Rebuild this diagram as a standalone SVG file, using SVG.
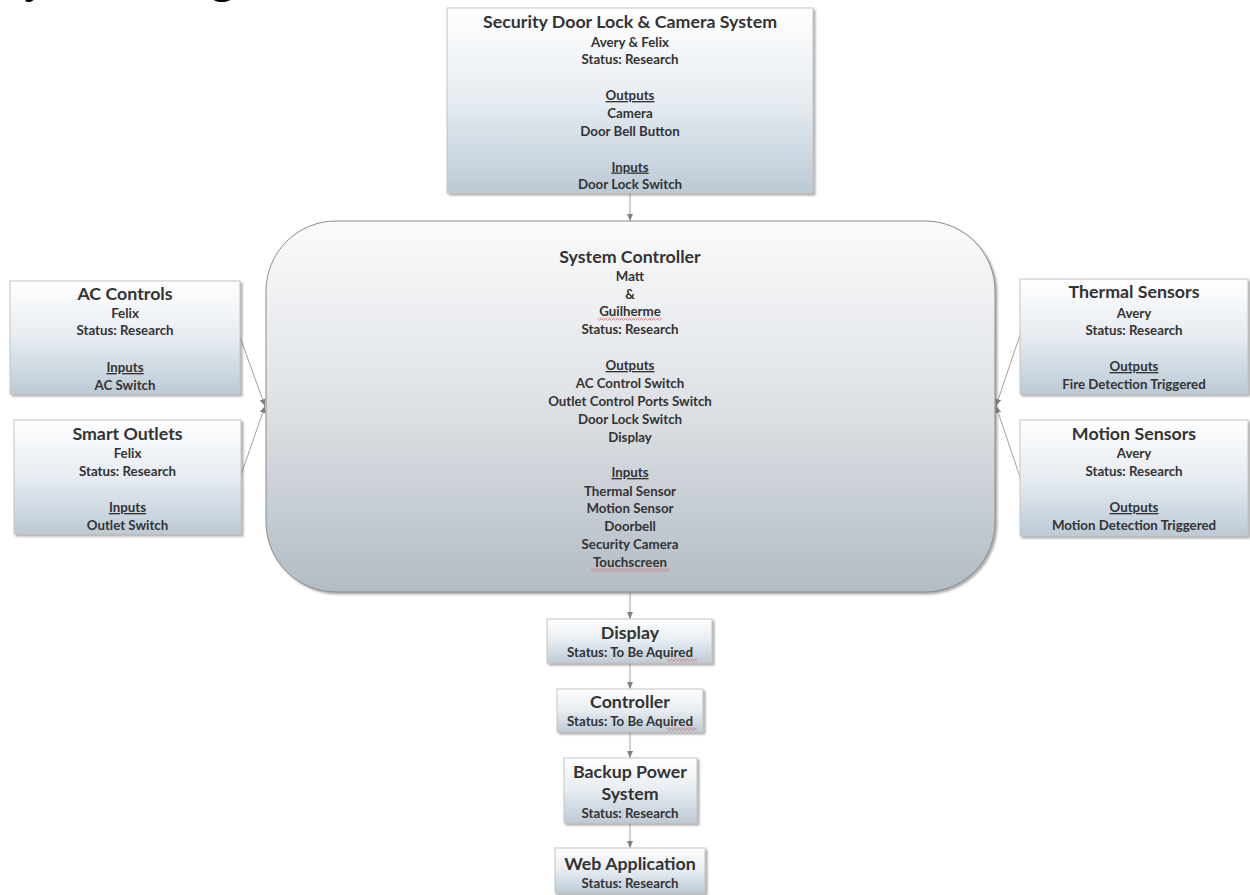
<svg xmlns="http://www.w3.org/2000/svg" width="1250" height="895" viewBox="0 0 1250 895">
<style>
.t{font-family:Lato,"Open Sans","Liberation Sans",sans-serif;font-weight:bold;font-size:17.8px;fill:#333;text-anchor:middle}
.b{font-family:Lato,"Open Sans","Liberation Sans",sans-serif;font-weight:bold;font-size:13.3px;fill:#333;text-anchor:middle}
.u{text-decoration:underline}
.box{fill:url(#boxGrad);stroke:#c4c4c4;stroke-width:1;filter:url(#sh)}
.ctrl{fill:url(#ctrlGrad);stroke:#8c8c8c;stroke-width:1;filter:url(#sh)}
.c{stroke:#a3a3a3;stroke-width:1;fill:none;marker-end:url(#arr)}
.sq{fill:url(#sq)}
</style>
<defs>
<linearGradient id="boxGrad" x1="0" y1="0" x2="0" y2="1">
<stop offset="0" stop-color="#ffffff"/>
<stop offset="0.5" stop-color="#e6ecf1"/>
<stop offset="1" stop-color="#bccad6"/>
</linearGradient>
<linearGradient id="ctrlGrad" x1="0" y1="0" x2="0" y2="1">
<stop offset="0" stop-color="#fbfbfc"/>
<stop offset="0.5" stop-color="#dde1e5"/>
<stop offset="1" stop-color="#b3bcc4"/>
</linearGradient>
<filter id="sh" x="-5%" y="-5%" width="110%" height="115%">
<feDropShadow dx="2" dy="2" stdDeviation="1" flood-color="#666" flood-opacity="0.55"/>
</filter>
<marker id="arr" markerWidth="8" markerHeight="8" refX="7" refY="4" orient="auto" markerUnits="userSpaceOnUse">
<path d="M0,1 L7,4 L0,7 Z" fill="#808080"/>
</marker>
<pattern id="sq" width="4" height="3" patternUnits="userSpaceOnUse">
<path d="M0,2.5 L1,0.6 L2,0.6 L3,2.5 L4,2.5" stroke="#e05a5a" stroke-width="0.7" fill="none"/>
</pattern>
</defs>

<text x="0" y="-7" style="font-family:'Liberation Serif',serif;font-weight:bold;font-size:44px;fill:#000">System Diagram</text>

<g id="connectors">
<line class="c" x1="630" y1="193" x2="630" y2="221"/>
<line class="c" x1="630" y1="592" x2="630" y2="619"/>
<line class="c" x1="630" y1="663" x2="630" y2="689"/>
<line class="c" x1="630" y1="732" x2="630" y2="758"/>
<line class="c" x1="630" y1="823" x2="630" y2="848"/>
<line class="c" x1="240" y1="337" x2="265" y2="406"/>
<line class="c" x1="241" y1="475" x2="265" y2="406"/>
<line class="c" x1="1020" y1="335" x2="996" y2="406"/>
<line class="c" x1="1020" y1="477" x2="996" y2="406"/>
</g>

<g id="security">
<rect class="box" x="447" y="8" width="366" height="185"/>
<text class="t" x="630" y="28">Security Door Lock &amp; Camera System</text>
<text class="b" x="630" y="46.5">Avery &amp; Felix</text>
<text class="b" x="630" y="64">Status: Research</text>
<text class="b u" x="630" y="100">Outputs</text>
<text class="b" x="630" y="118">Camera</text>
<text class="b" x="630" y="136">Door Bell Button</text>
<text class="b u" x="630" y="171.5">Inputs</text>
<text class="b" x="630" y="189">Door Lock Switch</text>
</g>

<g id="controller">
<rect class="ctrl" x="266" y="221" width="729" height="371" rx="70" ry="70"/>
<text class="t" x="630" y="263">System Controller</text>
<text class="b" x="630" y="281">Matt</text>
<text class="b" x="630" y="299">&amp;</text>
<text class="b" x="630" y="316">Guilherme</text>
<rect class="sq" x="598" y="317.5" width="64" height="3"/>
<text class="b" x="630" y="334">Status: Research</text>
<text class="b u" x="630" y="370">Outputs</text>
<text class="b" x="630" y="388">AC Control Switch</text>
<text class="b" x="630" y="406">Outlet Control Ports Switch</text>
<text class="b" x="630" y="424">Door Lock Switch</text>
<text class="b" x="630" y="442">Display</text>
<text class="b u" x="630" y="477">Inputs</text>
<text class="b" x="630" y="496">Thermal Sensor</text>
<text class="b" x="630" y="513">Motion Sensor</text>
<text class="b" x="630" y="531">Doorbell</text>
<text class="b" x="630" y="549">Security Camera</text>
<text class="b" x="630" y="567">Touchscreen</text>
<rect class="sq" x="591" y="568.5" width="78" height="3"/>
</g>

<g id="ac">
<rect class="box" x="10" y="281" width="230" height="113"/>
<text class="t" x="125" y="300">AC Controls</text>
<text class="b" x="125" y="318">Felix</text>
<text class="b" x="125" y="335">Status: Research</text>
<text class="b u" x="125" y="372">Inputs</text>
<text class="b" x="125" y="390">AC Switch</text>
</g>

<g id="outlets">
<rect class="box" x="14" y="420" width="227" height="114"/>
<text class="t" x="127.5" y="440">Smart Outlets</text>
<text class="b" x="127.5" y="458">Felix</text>
<text class="b" x="127.5" y="476">Status: Research</text>
<text class="b u" x="127.5" y="512">Inputs</text>
<text class="b" x="127.5" y="530">Outlet Switch</text>
</g>

<g id="thermal">
<rect class="box" x="1020" y="279" width="228" height="115"/>
<text class="t" x="1134" y="298">Thermal Sensors</text>
<text class="b" x="1134" y="318">Avery</text>
<text class="b" x="1134" y="335">Status: Research</text>
<text class="b u" x="1134" y="371">Outputs</text>
<text class="b" x="1134" y="389">Fire Detection Triggered</text>
</g>

<g id="motion">
<rect class="box" x="1020" y="420" width="228" height="116"/>
<text class="t" x="1134" y="440">Motion Sensors</text>
<text class="b" x="1134" y="458">Avery</text>
<text class="b" x="1134" y="476">Status: Research</text>
<text class="b u" x="1134" y="512">Outputs</text>
<text class="b" x="1134" y="530">Motion Detection Triggered</text>
</g>

<g id="display">
<rect class="box" x="547" y="619" width="165" height="44"/>
<text class="t" x="630" y="639">Display</text>
<text class="b" x="630" y="657">Status: To Be Aquired</text>
<rect class="sq" x="667" y="658.5" width="30" height="3"/>
</g>

<g id="ctrlhw">
<rect class="box" x="557" y="689" width="146" height="43"/>
<text class="t" x="630" y="708">Controller</text>
<text class="b" x="630" y="726">Status: To Be Aquired</text>
<rect class="sq" x="667" y="727.5" width="30" height="3"/>
</g>

<g id="backup">
<rect class="box" x="564" y="758" width="133" height="65"/>
<text class="t" x="630" y="778">Backup Power</text>
<text class="t" x="630" y="800">System</text>
<text class="b" x="630" y="818">Status: Research</text>
</g>

<g id="webapp">
<rect class="box" x="555" y="848" width="150" height="45"/>
<text class="t" x="630" y="870">Web Application</text>
<text class="b" x="630" y="888">Status: Research</text>
</g>
</svg>
